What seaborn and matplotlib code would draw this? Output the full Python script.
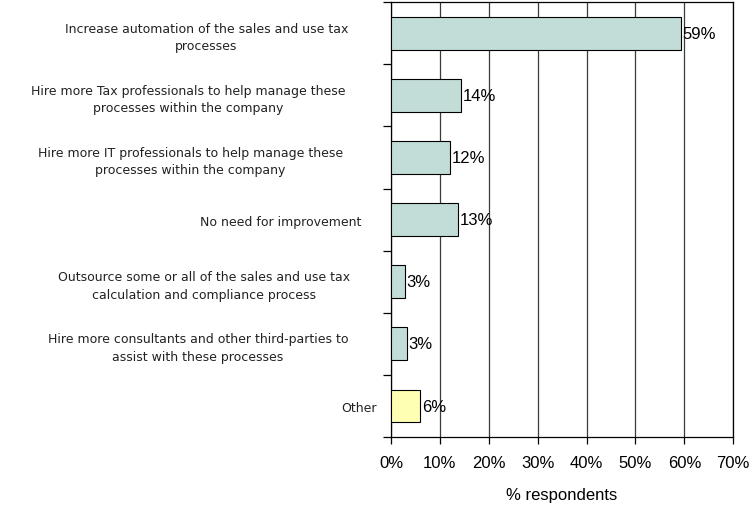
import numpy as np
import pandas as pd
import matplotlib
matplotlib.use("Agg")
import matplotlib.pyplot as plt
import matplotlib.transforms as mtransforms
import seaborn as sns

categories = [
    "Increase automation of the sales and use tax\nprocesses",
    "Hire more Tax professionals to help manage these\nprocesses within the company",
    "Hire more IT professionals to help manage these\nprocesses within the company",
    "No need for improvement",
    "Outsource some or all of the sales and use tax\ncalculation and compliance process",
    "Hire more consultants and other third-parties to\nassist with these processes",
    "Other",
]
values = [59.3, 14.4, 12.1, 13.7, 2.9, 3.3, 6.0]
labels = ["59%", "14%", "12%", "13%", "3%", "3%", "6%"]
colors = ["#C2DDD8"] * 6 + ["#FFFFB3"]

df = pd.DataFrame({"category": categories, "value": values})

sns.set_style("white")
plt.rcParams["font.family"] = ["Liberation Sans", "DejaVu Sans"]
plt.rcParams["text.color"] = "black"
plt.rcParams["xtick.color"] = "black"
plt.rcParams["ytick.color"] = "black"
plt.rcParams["axes.labelcolor"] = "black"

fig = plt.figure(figsize=(7.49, 5.10), dpi=100)
ax = fig.add_axes([0.522, 0.141, 0.457, 0.853])

sns.barplot(data=df, x="value", y="category", hue="category", palette=colors,
            saturation=1, legend=False, width=0.53, edgecolor="black",
            linewidth=0.8, ax=ax, zorder=3)

for i, (v, lab) in enumerate(zip(values, labels)):
    ax.text(v + 0.3, i, lab, va="center", ha="left", fontsize=12, zorder=4)

ax.set_xlim(0, 70)
ax.set_ylim(6.5, -0.5)
ax.set_xticks(np.arange(0, 71, 10))
ax.set_xticklabels([f"{t}%" for t in range(0, 71, 10)], fontsize=12)
ax.xaxis.grid(True, color="#3a3a3a", linewidth=0.9, zorder=0)
ax.set_axisbelow(True)

ax.set_yticks(range(len(categories)))
ax.set_yticklabels(categories, fontsize=9, multialignment="center",
                   family="DejaVu Sans", linespacing=1.45, color="#222222")
ax.tick_params(axis="y", which="major", length=0, pad=10)
ax.set_yticks(np.arange(-0.5, 7, 1), minor=True)
ax.tick_params(axis="y", which="minor", left=True, length=6, width=0.9,
               color="black", direction="out")
ax.tick_params(axis="x", bottom=True, length=5, width=0.9, color="black",
               direction="out", pad=8)

# the wrapped labels sit further from the axis than the short ones
shifts = [29, 32, 34, 16, 27, 29, 0]
for lab, dx in zip(ax.get_yticklabels(), shifts):
    lab.set_transform(lab.get_transform() +
                      mtransforms.ScaledTranslation(-dx / 100, 0, fig.dpi_scale_trans))

for s in ax.spines.values():
    s.set_color("black")
    s.set_linewidth(0.9)

ax.set_xlabel("% respondents", fontsize=12, labelpad=12)
ax.set_ylabel("")

fig.savefig("out.png", dpi=100)
